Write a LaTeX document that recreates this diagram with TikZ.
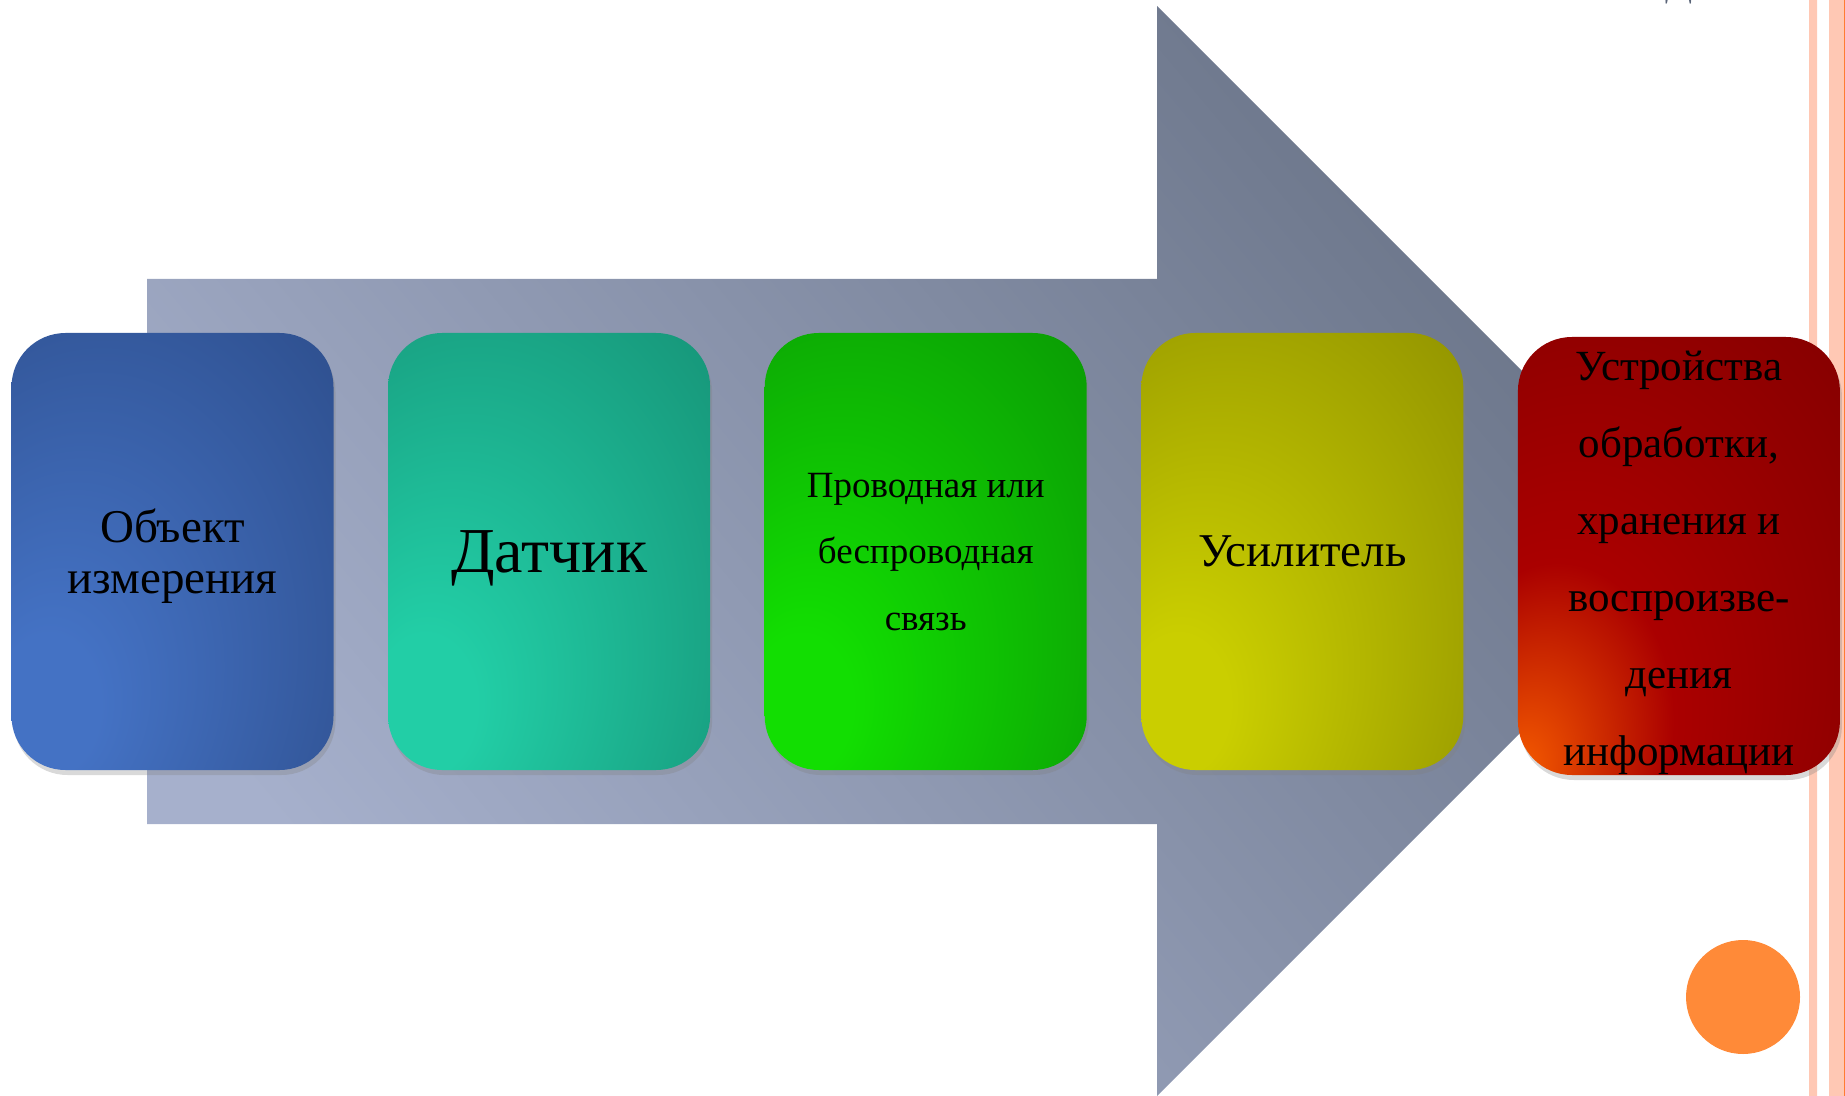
\documentclass[tikz,border=0pt]{standalone}
\usepackage{fontspec}
\setmainfont{Liberation Serif}
\usepackage{xcolor}
\usetikzlibrary{positioning,shadows}

\definecolor{arrL}{RGB}{166,176,204}
\definecolor{arrD}{RGB}{106,116,136}
\definecolor{bluL}{RGB}{68,114,196}
\definecolor{bluD}{RGB}{34,60,112}
\definecolor{tealL}{RGB}{34,206,166}
\definecolor{tealD}{RGB}{16,118,96}
\definecolor{grnL}{RGB}{18,222,2}
\definecolor{grnD}{RGB}{6,118,6}
\definecolor{yelL}{RGB}{202,206,0}
\definecolor{yelD}{RGB}{116,116,0}
\definecolor{redO}{RGB}{246,92,0}
\definecolor{redM}{RGB}{170,0,0}
\definecolor{redD}{RGB}{104,0,0}
\definecolor{stripe}{RGB}{255,200,180}
\definecolor{dot}{RGB}{255,138,56}

\pgfdeclareradialshading{objsh}{\pgfpoint{-22bp}{-20bp}}{color(0bp)=(bluL); color(8bp)=(bluL); color(66bp)=(bluD)}
\pgfdeclareradialshading{datsh}{\pgfpoint{-22bp}{-20bp}}{color(0bp)=(tealL); color(8bp)=(tealL); color(66bp)=(tealD)}
\pgfdeclareradialshading{svsh}{\pgfpoint{-22bp}{-20bp}}{color(0bp)=(grnL); color(8bp)=(grnL); color(66bp)=(grnD)}
\pgfdeclareradialshading{ussh}{\pgfpoint{-22bp}{-20bp}}{color(0bp)=(yelL); color(8bp)=(yelL); color(66bp)=(yelD)}
\pgfdeclareradialshading{ustsh}{\pgfpoint{-25bp}{-25bp}}{color(0bp)=(redO); color(18bp)=(redM); color(72bp)=(redD)}

\tikzset{blok/.style={shade,rounded corners=27pt,minimum width=161pt,minimum height=218.5pt,
  inner sep=0pt,outer sep=0pt,align=center,text=black,font=\fontsize{23.5}{25.5}\selectfont,
  drop shadow={shadow xshift=1pt,shadow yshift=-2.5pt,opacity=.3}}}

\begin{document}
\begin{tikzpicture}[x=0.5pt,y=-0.5pt]
\useasboundingbox (0,0) rectangle (1845,1096);
% page decoration
\fill[stripe] (1809,0) rectangle (1817,1096) (1829,0) rectangle (1845,1096);
\fill[dot!90!red] (1844,0) rectangle (1845,1096);
\fill[dot] (1743,997) circle (57);
\node[anchor=base,text={rgb,255:red,90;green,100;blue,120},font=\fontsize{20}{24}\selectfont,inner sep=0pt] (ttl) at (1679,-4) {Д};
% big arrow behind
\shade[top color=arrD,bottom color=arrL,shading angle=-50]
  (147,279)--(1157,279)--(1157,6)--(1702,551)--(1157,1096)--(1157,824)--(147,824)--cycle;
% chain of blocks
\node[blok,shading=objsh,text height=41.5pt,text depth=0pt] (obj) at (172.5,551.5) {Объект\\измерения};
\node[blok,shading=datsh,right=27.3pt of obj,font=\fontsize{32}{36}\selectfont,text height=20.5pt,text depth=0pt] (dat) {Датчик};
\node[blok,shading=svsh,right=27.3pt of dat,font=\fontsize{18.5}{33.25}\selectfont,text height=78.5pt,text depth=0pt] (svz) {Проводная или\\беспроводная\\связь};
\node[blok,shading=ussh,right=27.3pt of svz] (usl) {Усилитель};
\node[blok,shading=ustsh,right=27.3pt of usl,yshift=-2.25pt,minimum height=219pt,
  font=\fontsize{21.5}{38.5}\selectfont,text height=209pt,text depth=0pt] (ustr) {Устройства\\обработки,\\хранения и\\воспроизве-\\дения\\информации};
\end{tikzpicture}
\end{document}
